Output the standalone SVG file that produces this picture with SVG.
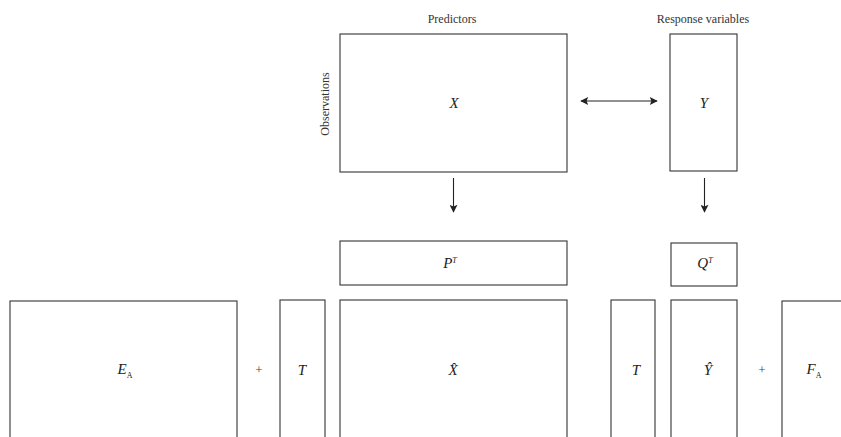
<svg xmlns="http://www.w3.org/2000/svg" width="841" height="437" viewBox="0 0 841 437">
<style>
rect.box{fill:#fff;stroke:#333;stroke-width:1.1}
text{font-family:"Liberation Serif","DejaVu Serif",serif;fill:#222}
text.lbl{font-size:15px;font-style:italic;text-anchor:middle}
text.ttl{font-size:12px;text-anchor:middle;fill:#333}
text.plus{font-size:13px;text-anchor:middle;fill:#444}
.conn line{stroke:#222;stroke-width:1.1}
</style>
<defs>
<marker id="ah" viewBox="0 0 10 10" refX="9" refY="5" markerWidth="9" markerHeight="8" markerUnits="userSpaceOnUse" orient="auto-start-reverse">
<path d="M0,0 L10,5 L0,10 L2,5 z" fill="#222"/>
</marker>
</defs>
<rect width="841" height="437" fill="#fff"/>
<text class="ttl" x="452" y="23">Predictors</text>
<text class="ttl" x="703" y="23">Response variables</text>
<text class="ttl" transform="translate(329,104) rotate(-90)">Observations</text>
<g id="X"><rect class="box" x="340" y="34" width="227" height="138"/><text class="lbl" x="454" y="108">X</text></g>
<g id="Y"><rect class="box" x="670" y="34" width="67" height="137"/><text class="lbl" x="704" y="108">Y</text></g>
<g id="PT"><rect class="box" x="340" y="241" width="227" height="44"/><text class="lbl" x="450" y="268">P<tspan font-size="8" dy="-5">T</tspan></text></g>
<g id="QT"><rect class="box" x="671" y="243" width="66" height="43"/><text class="lbl" x="705" y="268">Q<tspan font-size="8" dy="-5">T</tspan></text></g>
<g id="EA"><rect class="box" x="10" y="301" width="227" height="150"/><text class="lbl" x="125" y="374">E<tspan font-size="8" dy="4" font-style="normal">A</tspan></text></g>
<text class="plus" x="259" y="374">+</text>
<g id="T1"><rect class="box" x="280" y="300" width="45" height="150"/><text class="lbl" x="302" y="375">T</text></g>
<g id="Xhat"><rect class="box" x="340" y="300" width="227" height="150"/><text class="lbl" x="453" y="375">X̂</text></g>
<g id="T2"><rect class="box" x="611" y="300" width="44" height="150"/><text class="lbl" x="636" y="375">T</text></g>
<g id="Yhat"><rect class="box" x="671" y="300" width="66" height="150"/><text class="lbl" x="708" y="375">Ŷ</text></g>
<text class="plus" x="762" y="374">+</text>
<g id="FA"><rect class="box" x="782" y="301" width="70" height="150"/><text class="lbl" x="814" y="374">F<tspan font-size="8" dy="4" font-style="normal">A</tspan></text></g>
<g class="conn">
<line x1="581" y1="101" x2="657" y2="101" marker-start="url(#ah)" marker-end="url(#ah)"/>
<line x1="453.5" y1="178" x2="453.5" y2="212" marker-end="url(#ah)"/>
<line x1="704.5" y1="178" x2="704.5" y2="212" marker-end="url(#ah)"/>
</g>
</svg>
